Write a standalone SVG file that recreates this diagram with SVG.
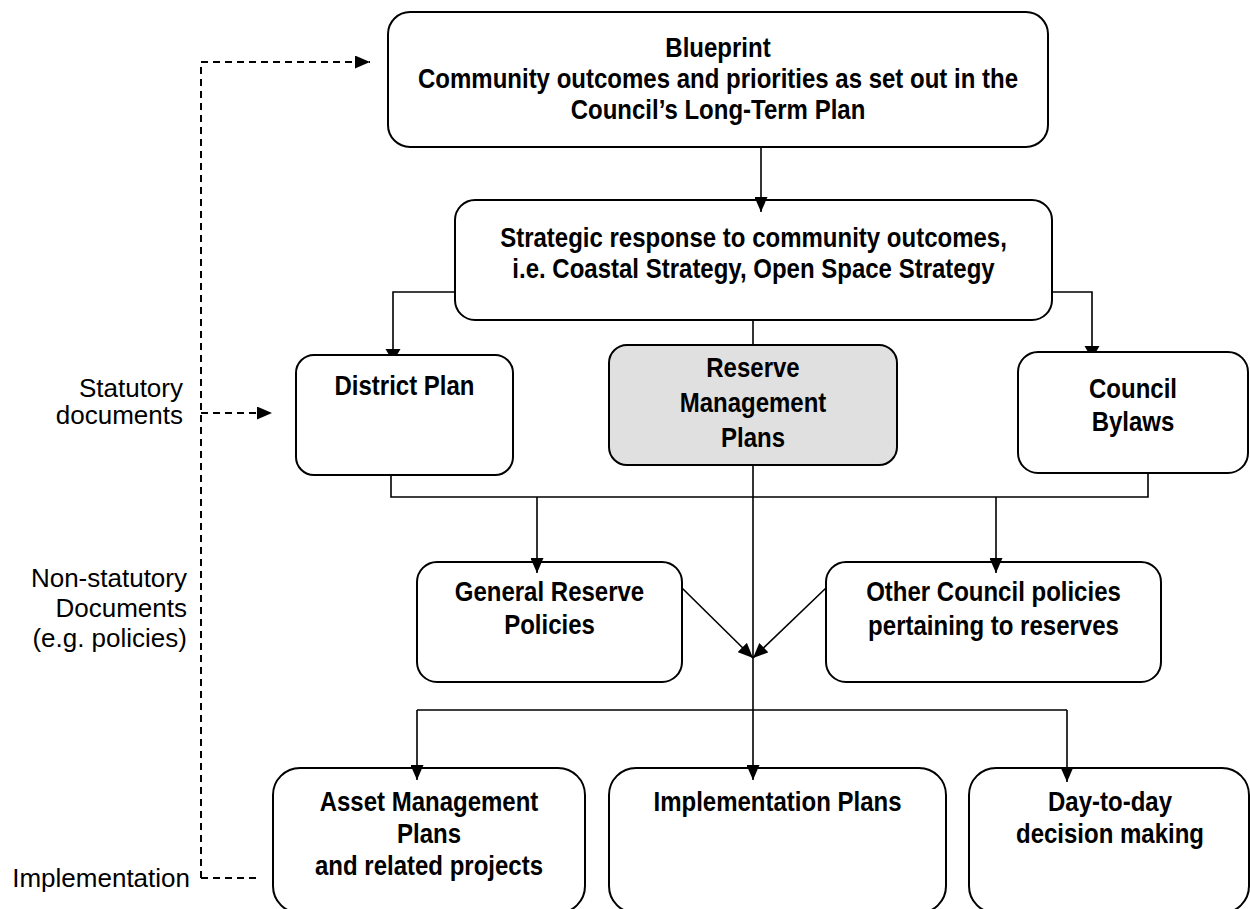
<svg xmlns="http://www.w3.org/2000/svg" width="1250" height="909" viewBox="0 0 1250 909">
<defs>
<style>
.box{fill:#fff;stroke:#000;stroke-width:2}
.grey{fill:#e0e0e0}
.b{font-family:"Liberation Sans",Arial,sans-serif;font-weight:bold;font-size:24px;text-anchor:middle;fill:#000;transform-box:fill-box;transform-origin:center;transform:scaleY(1.15)}
.l{font-family:"Liberation Sans",Arial,sans-serif;font-size:26px;text-anchor:end;fill:#000}
.c{fill:none;stroke:#000;stroke-width:1.6}
.d{fill:none;stroke:#000;stroke-width:2;stroke-dasharray:7,5}
.h{fill:#000;stroke:none}
</style>
<marker id="arr" viewBox="0 0 15 13" refX="15" refY="6.5" markerWidth="15" markerHeight="13" markerUnits="userSpaceOnUse" orient="auto">
<path d="M0,0 L15,6.5 L0,13 z" fill="#000"/>
</marker>
</defs>
<rect width="1250" height="909" fill="#fff"/>

<g id="labels">
<text class="l" x="183" y="397">Statutory</text>
<text class="l" x="183" y="424">documents</text>
<text class="l" x="187" y="587">Non-statutory</text>
<text class="l" x="187" y="617">Documents</text>
<text class="l" x="187" y="647">(e.g. policies)</text>
<text class="l" x="190" y="887">Implementation</text>
</g>

<g id="blueprint">
<rect class="box" x="388" y="12" width="660" height="135" rx="22"/>
<text class="b" x="718" y="56">Blueprint</text>
<text class="b" x="718" y="87">Community outcomes and priorities as set out in the</text>
<text class="b" x="718" y="118">Council’s Long-Term Plan</text>
</g>

<g id="strategic">
<rect class="box" x="455" y="200" width="597" height="120" rx="20"/>
<text class="b" x="753.5" y="246">Strategic response to community outcomes,</text>
<text class="b" x="753.5" y="277">i.e. Coastal Strategy, Open Space Strategy</text>
</g>

<g id="district-plan">
<rect class="box" x="296" y="355" width="217" height="120" rx="18"/>
<text class="b" x="404.5" y="394">District Plan</text>
</g>

<g id="reserve-management-plans">
<rect class="box grey" x="609" y="345" width="288" height="120" rx="18"/>
<text class="b" x="753" y="376">Reserve</text>
<text class="b" x="753" y="411">Management</text>
<text class="b" x="753" y="446">Plans</text>
</g>

<g id="council-bylaws">
<rect class="box" x="1018" y="352" width="230" height="121" rx="20"/>
<text class="b" x="1133" y="397">Council</text>
<text class="b" x="1133" y="430">Bylaws</text>
</g>

<g id="general-reserve-policies">
<rect class="box" x="417" y="562" width="265" height="120" rx="20"/>
<text class="b" x="549.5" y="600">General Reserve</text>
<text class="b" x="549.5" y="633">Policies</text>
</g>

<g id="other-council-policies">
<rect class="box" x="826" y="562" width="335" height="120" rx="20"/>
<text class="b" x="993.5" y="600">Other Council policies</text>
<text class="b" x="993.5" y="634">pertaining to reserves</text>
</g>

<g id="asset-management-plans">
<rect class="box" x="273" y="768" width="312" height="145" rx="27"/>
<text class="b" x="429" y="810">Asset Management</text>
<text class="b" x="429" y="842">Plans</text>
<text class="b" x="429" y="874">and related projects</text>
</g>

<g id="implementation-plans">
<rect class="box" x="609" y="768" width="337" height="145" rx="27"/>
<text class="b" x="777.5" y="810">Implementation Plans</text>
</g>

<g id="day-to-day">
<rect class="box" x="969" y="768" width="280" height="145" rx="27"/>
<text class="b" x="1110" y="810">Day-to-day</text>
<text class="b" x="1110" y="842">decision making</text>
</g>

<g id="connectors">
<path class="d" d="M201,878 V62 H370" marker-end="url(#arr)"/>
<path class="d" d="M201,413 H272" marker-end="url(#arr)"/>
<path class="d" d="M201,878 H259"/>
<path class="c" d="M761,147 V212" marker-end="url(#arr)"/>
<path class="c" d="M455,292 H393 V349"/>
<polygon class="h" points="385.5,349 400.5,349 397,355 389,355"/>
<path class="c" d="M1052,292 H1092 V346"/>
<polygon class="h" points="1084.5,346 1099.5,346 1096,352 1088,352"/>
<path class="c" d="M753,320 V345"/>
<path class="c" d="M391,475 V497 H1148 V473"/>
<path class="c" d="M537,497 V573" marker-end="url(#arr)"/>
<path class="c" d="M996,497 V573" marker-end="url(#arr)"/>
<path class="c" d="M753,465 V780" marker-end="url(#arr)"/>
<path class="c" d="M682,588 L753,658" marker-end="url(#arr)"/>
<path class="c" d="M826,588 L753,658" marker-end="url(#arr)"/>
<path class="c" d="M417,710 H1067"/>
<path class="c" d="M417,710 V780" marker-end="url(#arr)"/>
<path class="c" d="M1067,710 V782" marker-end="url(#arr)"/>
</g>
</svg>
